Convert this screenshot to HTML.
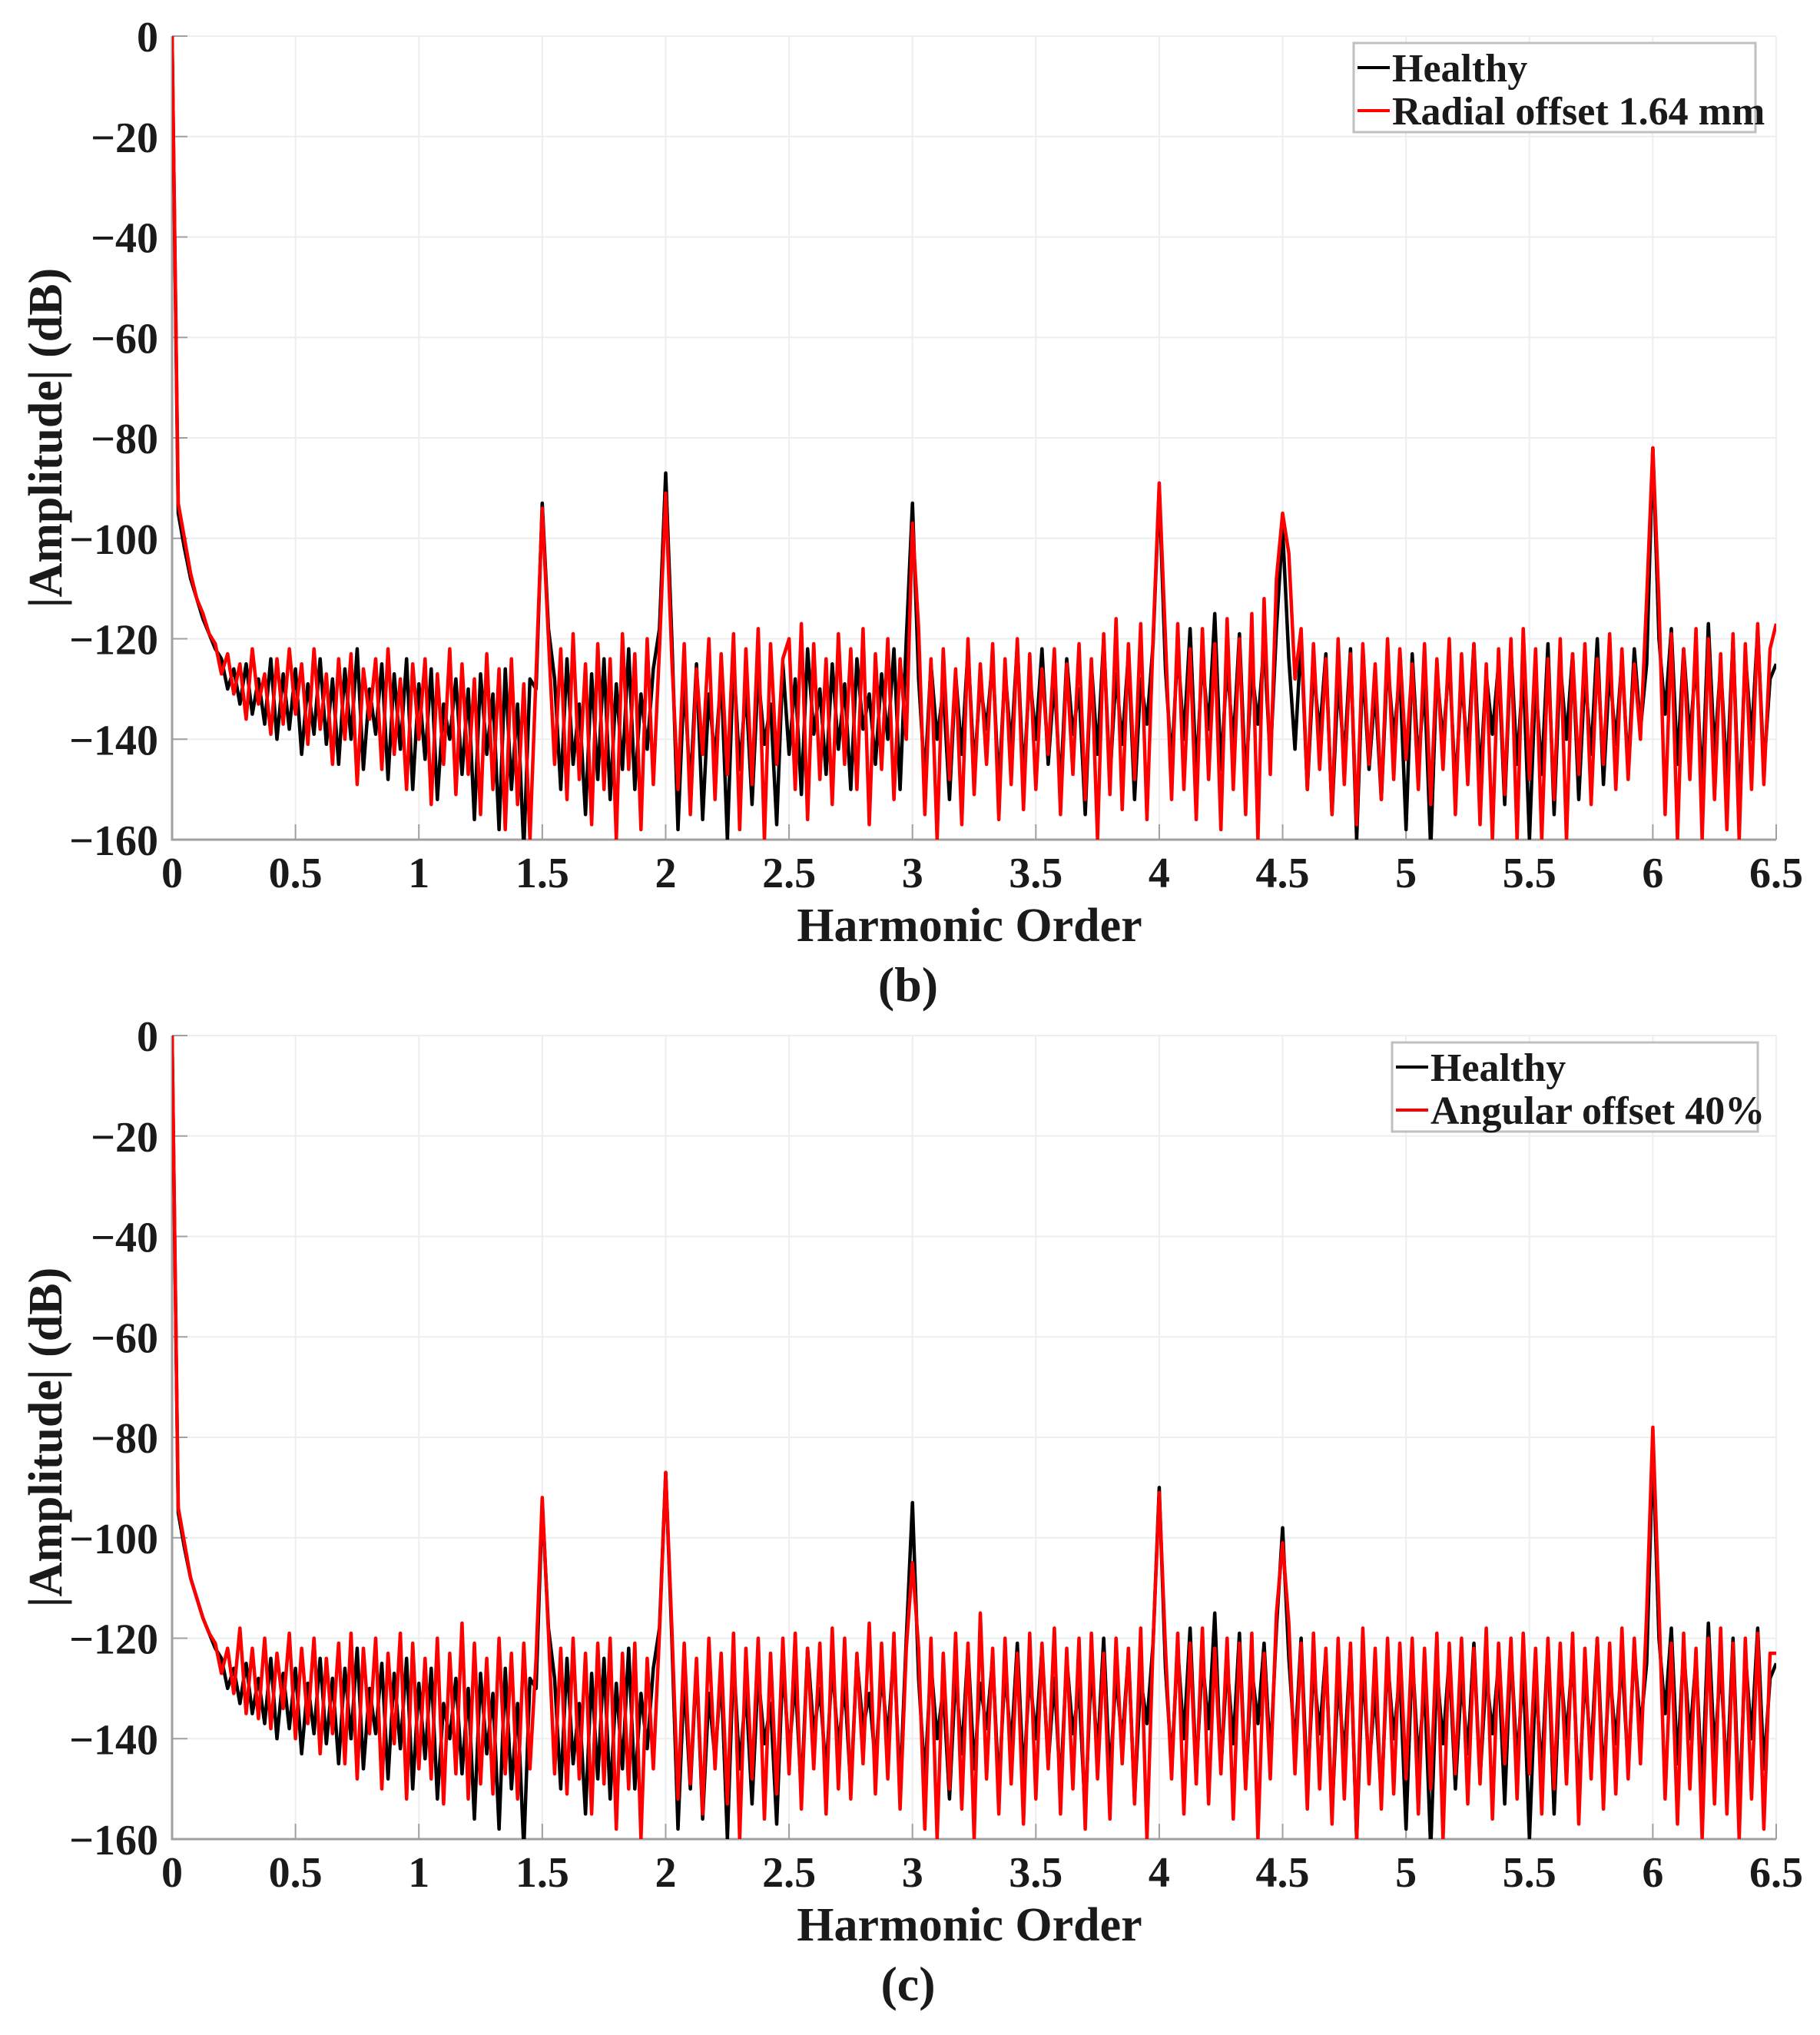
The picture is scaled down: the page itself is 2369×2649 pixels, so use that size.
<!DOCTYPE html>
<html><head><meta charset="utf-8"><style>
body{margin:0;background:#fff;}
text{font-family:"Liberation Serif",serif;font-weight:bold;fill:#1a1a1a;}
</style></head><body>
<svg id="fig" width="2369" height="2644" xmlns="http://www.w3.org/2000/svg"></svg>
<script>
const xStep = 0.025;
const xTicks = ["0","0.5","1","1.5","2","2.5","3","3.5","4","4.5","5","5.5","6","6.5"];
const yTicks = [0,-20,-40,-60,-80,-100,-120,-140,-160];
const healthy = [
0,-95,-102,-108,-112,-116,-119,-122,-124,-130,-126,-133,-125,-135,-128,-137,-124,-140,-127,-138,
-126,-143,-129,-139,-124,-141,-128,-145,-126,-140,-122,-146,-130,-139,-125,-148,-127,-142,-124,-150,
-129,-144,-126,-152,-133,-140,-128,-147,-130,-156,-127,-143,-131,-158,-126,-150,-133,-162,-128,-130,
-93,-118,-128,-150,-124,-145,-133,-155,-127,-148,-124,-152,-129,-146,-122,-150,-131,-142,-126,-118,
-87,-120,-158,-128,-150,-125,-156,-131,-144,-127,-160,-124,-146,-130,-153,-127,-141,-133,-157,-125,
-143,-128,-151,-122,-139,-130,-147,-125,-142,-129,-150,-124,-138,-131,-145,-127,-140,-122,-150,-120,
-93,-128,-148,-125,-140,-130,-152,-127,-143,-122,-146,-129,-138,-124,-150,-126,-142,-121,-148,-127,
-140,-122,-145,-128,-150,-124,-139,-130,-155,-125,-143,-120,-148,-127,-141,-123,-152,-128,-137,-121,
-90,-126,-145,-122,-140,-118,-147,-124,-138,-115,-146,-125,-141,-119,-149,-126,-137,-121,-144,-118,
-98,-124,-142,-120,-150,-126,-139,-123,-155,-128,-144,-122,-160,-125,-146,-130,-152,-124,-140,-127,
-158,-123,-145,-129,-162,-126,-141,-124,-150,-128,-143,-121,-148,-127,-139,-125,-153,-122,-145,-126,
-160,-128,-147,-121,-155,-125,-140,-123,-152,-127,-143,-120,-149,-126,-141,-124,-146,-122,-138,-125,
-82,-120,-135,-118,-145,-122,-140,-124,-150,-117,-143,-125,-148,-120,-155,-123,-140,-118,-146,-128,
-125];
const radial = [
0,-93,-100,-107,-112,-115,-119,-121,-127,-123,-131,-125,-136,-122,-133,-127,-139,-124,-137,-122,
-135,-125,-141,-122,-138,-127,-145,-124,-140,-123,-149,-126,-136,-124,-146,-122,-143,-128,-150,-125,
-140,-124,-153,-127,-145,-122,-151,-125,-147,-128,-155,-123,-150,-126,-158,-124,-153,-129,-160,-127,
-94,-120,-145,-122,-152,-119,-148,-125,-157,-121,-150,-124,-160,-119,-146,-123,-158,-120,-149,-122,
-91,-124,-150,-121,-155,-126,-143,-120,-152,-123,-147,-119,-158,-122,-149,-118,-160,-121,-145,-124,
-120,-150,-117,-156,-121,-148,-124,-153,-119,-145,-122,-150,-118,-157,-123,-146,-120,-152,-124,-140,
-97,-118,-155,-124,-160,-122,-148,-126,-157,-120,-151,-125,-145,-121,-156,-124,-149,-120,-154,-123,
-150,-126,-143,-122,-155,-125,-147,-121,-152,-124,-160,-119,-151,-116,-154,-121,-148,-117,-156,-120,
-89,-120,-152,-117,-150,-122,-156,-118,-148,-121,-158,-116,-150,-120,-155,-115,-160,-112,-147,-108,
-95,-103,-128,-118,-150,-121,-146,-124,-155,-120,-149,-123,-157,-121,-145,-125,-152,-120,-148,-122,
-144,-125,-150,-121,-153,-124,-146,-120,-155,-123,-149,-121,-157,-125,-160,-122,-151,-120,-160,-118,
-148,-122,-160,-124,-152,-120,-160,-123,-147,-121,-153,-124,-145,-119,-150,-122,-148,-125,-140,-112,
-82,-113,-155,-119,-160,-122,-148,-118,-160,-120,-152,-123,-158,-119,-160,-121,-150,-117,-149,-122,
-117];
const angular = [
0,-94,-101,-108,-112,-116,-119,-121,-127,-122,-131,-118,-135,-122,-136,-120,-138,-123,-134,-119,
-140,-122,-137,-120,-143,-124,-139,-121,-145,-119,-148,-122,-139,-120,-150,-123,-141,-119,-152,-121,
-146,-124,-148,-120,-153,-123,-147,-117,-152,-121,-149,-124,-151,-120,-147,-123,-152,-121,-146,-124,
-92,-119,-147,-122,-151,-120,-148,-123,-155,-121,-149,-120,-158,-123,-150,-121,-160,-124,-146,-119,
-87,-118,-152,-121,-149,-124,-155,-120,-146,-123,-153,-119,-160,-122,-148,-120,-156,-123,-151,-120,
-147,-119,-154,-122,-146,-121,-155,-118,-150,-120,-152,-123,-145,-117,-151,-121,-148,-119,-154,-122,
-105,-122,-158,-120,-160,-123,-150,-119,-154,-121,-160,-115,-148,-122,-155,-120,-149,-123,-157,-119,
-152,-121,-146,-118,-155,-122,-150,-120,-158,-119,-148,-123,-156,-120,-145,-122,-153,-118,-160,-121,
-91,-122,-148,-119,-155,-121,-149,-118,-153,-122,-147,-120,-156,-121,-150,-119,-160,-123,-148,-115,
-101,-117,-147,-121,-154,-119,-150,-122,-157,-120,-152,-121,-160,-118,-149,-122,-154,-120,-151,-121,
-148,-120,-155,-122,-150,-119,-160,-121,-147,-120,-153,-122,-149,-118,-156,-121,-145,-120,-152,-119,
-147,-122,-155,-120,-150,-121,-149,-119,-157,-122,-148,-120,-154,-121,-151,-118,-148,-120,-145,-115,
-78,-114,-152,-121,-157,-119,-150,-122,-160,-120,-153,-118,-155,-121,-160,-120,-152,-119,-158,-123,
-123];

const NS="http://www.w3.org/2000/svg";
const svg=document.getElementById('fig');
function mk(tag,attrs,parent){const e=document.createElementNS(NS,tag);for(const k in attrs)e.setAttribute(k,attrs[k]);(parent||svg).appendChild(e);return e;}

function panel(top, redData, redName, legendX, legendW, letter, key){
  const L=224,R=2312,T=top,B=top+1046;
  const xs=v=>L+(v/6.5)*(R-L);
  const ys=v=>T+(-v/160)*(B-T);
  const g=mk('g',{});
  
  
  for(let i=0;i<xTicks.length;i++){const x=xs(i*0.5);const l=mk('line',{x1:x,x2:x,y1:T,y2:B,stroke:'#eeeeee','stroke-width':2},g);
    }
  yTicks.forEach(v=>{const y=ys(v);const l=mk('line',{x1:L,x2:R,y1:y,y2:y,stroke:'#eeeeee','stroke-width':2},g);
    });
  const ax=mk('path',{d:`M${L},${T}V${B}H${R}`,fill:'none',stroke:'#a0a0a0','stroke-width':3},g);
  
  for(let i=0;i<xTicks.length;i++){const x=xs(i*0.5);mk('line',{x1:x,x2:x,y1:B,y2:B-20,stroke:'#a0a0a0','stroke-width':2},g);
    const t=mk('text',{x:x,y:B+62,'font-size':56,'text-anchor':'middle'},g);t.textContent=xTicks[i];
    }
  yTicks.forEach(v=>{const y=ys(v);mk('line',{x1:L,x2:L+20,y1:y,y2:y,stroke:'#a0a0a0','stroke-width':2},g);
    const t=mk('text',{x:L-18,y:y+20,'font-size':56,'text-anchor':'end'},g);t.textContent=(v<0?'\u2212'+(-v):'0');
    });
  const cp=mk('clipPath',{id:'clip'+key},g);mk('rect',{x:L,y:T-5,width:R-L,height:B-T+5},cp);
  function line(data,color,name){
    let d='';data.forEach((v,i)=>{d+=(i?'L':'M')+xs(i*xStep).toFixed(1)+','+ys(v).toFixed(1);});
    const p=mk('path',{d:d,fill:'none',stroke:color,'stroke-width':4.5,'stroke-linejoin':'round','clip-path':`url(#clip${key})`},g);
    
  }
  line(healthy,'#000','healthy-line');
  line(redData,'#ff0000',redName.replace(/\s|\./g,'-').toLowerCase()+'-line');
  const lg=mk('g',{},g);
  mk('rect',{x:legendX,y:T+9,width:legendW,height:116,fill:'#fff',stroke:'#c0c0c0','stroke-width':3},lg);
  mk('line',{x1:legendX+5,x2:legendX+47,y1:T+41,y2:T+41,stroke:'#000','stroke-width':4},lg);
  mk('line',{x1:legendX+5,x2:legendX+47,y1:T+97,y2:T+97,stroke:'#ff0000','stroke-width':4},lg);
  const t1=mk('text',{x:legendX+50,y:T+59,'font-size':52},lg);t1.textContent='Healthy';
  
  const t2=mk('text',{x:legendX+50,y:T+115,'font-size':52},lg);t2.textContent=redName;
  
  const xl=mk('text',{x:1262,y:B+132,'font-size':62,'text-anchor':'middle'},g);xl.textContent='Harmonic Order';
  
  const yl=mk('text',{x:0,y:0,'font-size':62,'text-anchor':'middle',transform:`translate(80,${(T+B)/2}) rotate(-90)`},g);yl.textContent='|Amplitude| (dB)';
  
  const pl=mk('text',{x:1182,y:B+210,'font-size':64,'text-anchor':'middle'},g);pl.textContent='('+letter+')';
  
}
panel(47, radial, 'Radial offset 1.64 mm', 1762, 523, 'b', 'top');
panel(1348, angular, 'Angular offset 40%', 1812, 476, 'c', 'bottom');
</script>
</body></html>
